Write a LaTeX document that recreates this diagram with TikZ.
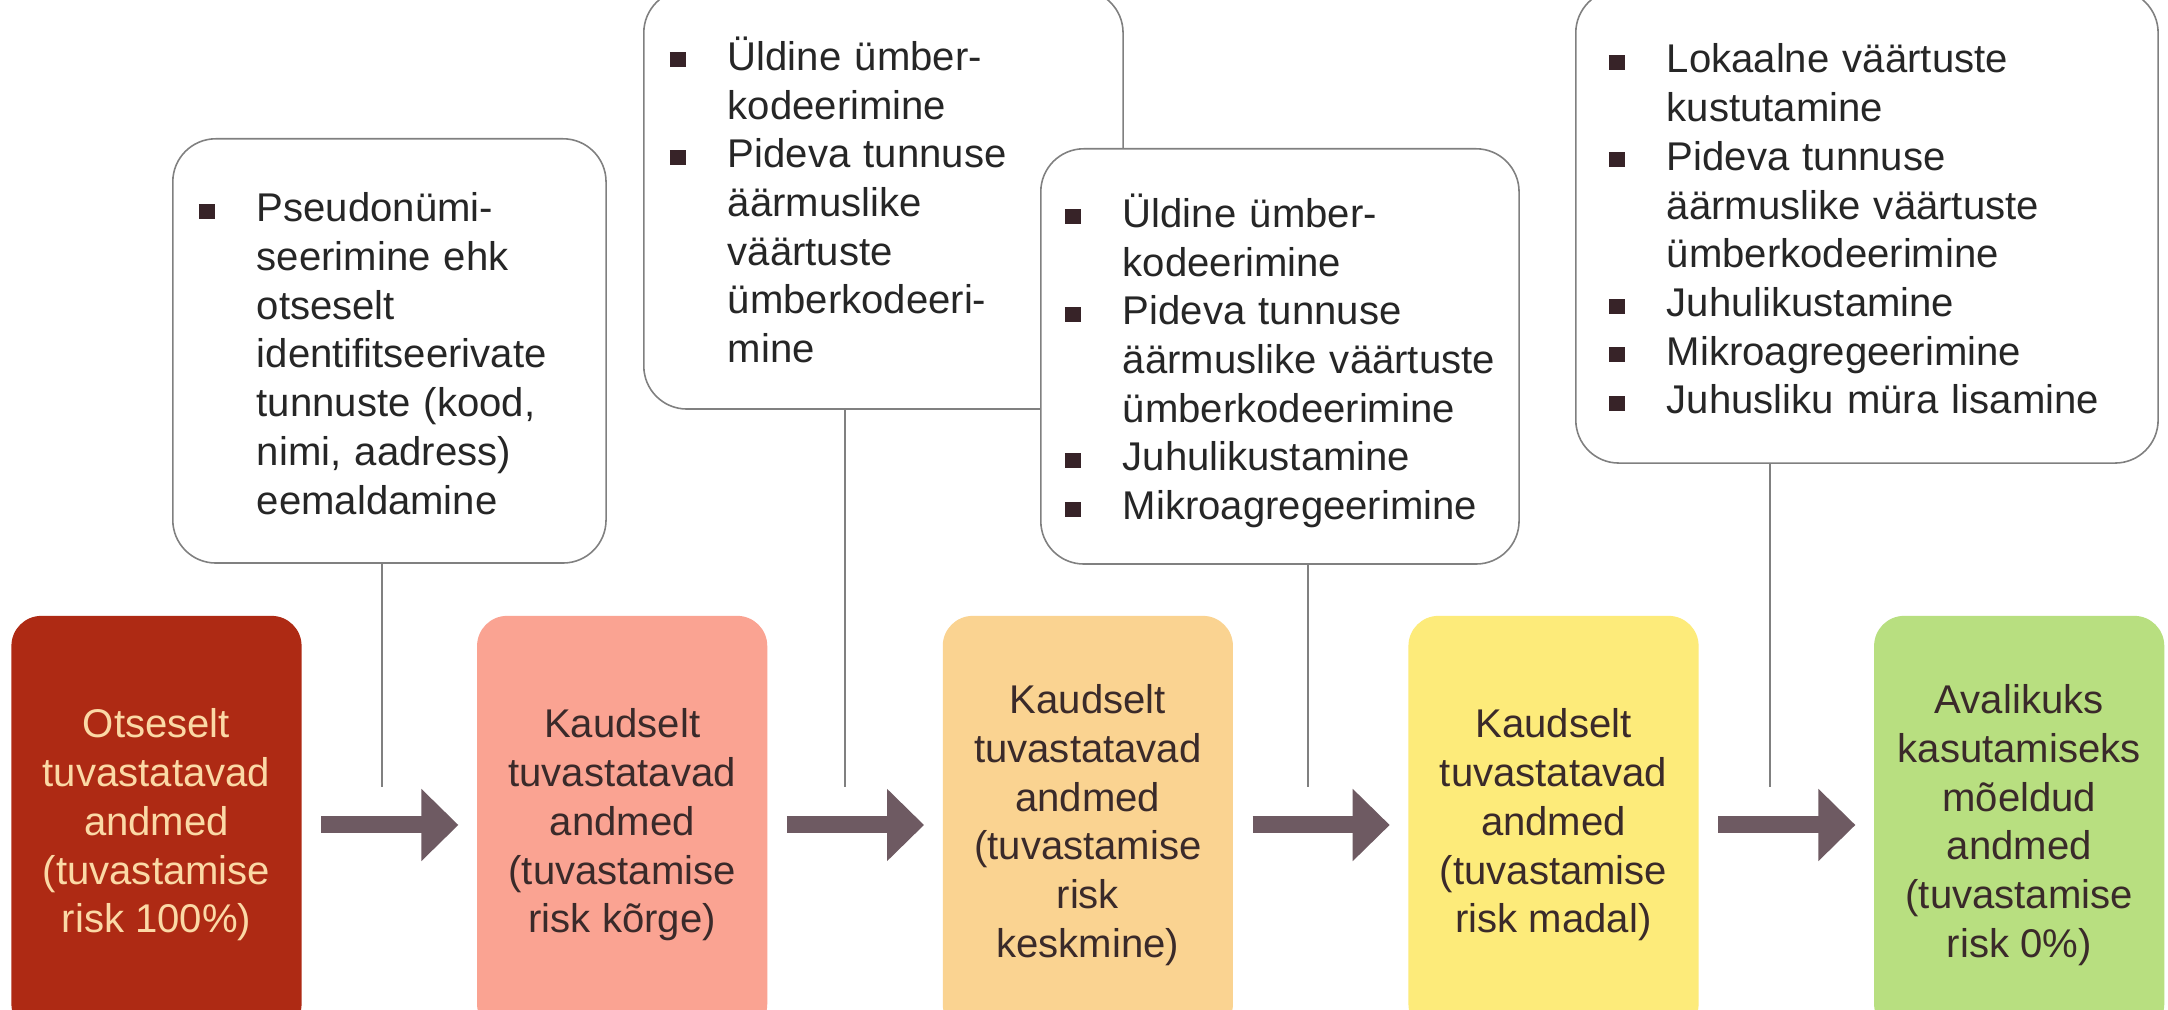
\documentclass[tikz,border=0pt]{standalone}
\usepackage{fontspec}
\setmainfont{Liberation Sans}
\usetikzlibrary{positioning, arrows.meta}

\definecolor{riskfull}{RGB}{174,42,20}
\definecolor{riskhigh}{RGB}{250,163,146}
\definecolor{riskmid}{RGB}{250,211,145}
\definecolor{risklow}{RGB}{253,235,122}
\definecolor{risknone}{RGB}{184,223,128}
\definecolor{peach}{RGB}{251,217,166}
\definecolor{darktext}{RGB}{58,42,42}
\definecolor{arrowgray}{RGB}{110,90,98}
\definecolor{bordergray}{RGB}{128,128,128}
\definecolor{bulletcol}{RGB}{55,35,40}

\newcommand{\bulsq}{\textcolor{bulletcol}{\rule[0.03cm]{0.16cm}{0.15cm}}}
\newcommand{\noteitem}[1]{\par\noindent\hangindent=0.58cm\hangafter=1%
  \makebox[0.58cm][l]{\bulsq}\strut#1\strut\par}

\begin{document}
\begin{tikzpicture}[
        x=0.01cm, y=-0.01cm,
        databox/.style={rounded corners=0.3cm, minimum width=2.9cm, minimum height=4.18cm,
                inner sep=0.05cm, align=center, text=darktext,
                font=\fontsize{11.4}{13.85}\selectfont},
        notebox/.style={draw=bordergray, line width=0.45pt, fill=white, rounded corners=0.43cm,
                anchor=north west, inner xsep=0.26cm, inner ysep=0pt, align=left,
                text=black!85, font=\fontsize{11.4}{13.85}\selectfont},
        flowarrow/.style={draw=arrowgray, line width=0.17cm,
                -{Triangle[length=0.37cm, width=0.7cm]}, shorten <=0.19cm, shorten >=0.18cm},
        linkline/.style={draw=bordergray, line width=0.4pt}
    ]
    \useasboundingbox (0,0) rectangle (2168,1010);
    \clip (0,0) rectangle (2168,1010);
    \fill[white] (0,0) rectangle (2168,1010);

    % Data boxes, from identifiable to public
    \node[databox, fill=riskfull, text=peach] (b1) at (156.5,825)
        {Otseselt\\tuvastatavad\\andmed\\(tuvastamise\\risk 100\%)};
    \node[databox, fill=riskhigh, right=1.74cm of b1] (b2)
        {Kaudselt\\tuvastatavad\\andmed\\(tuvastamise\\risk kõrge)};
    \node[databox, fill=riskmid, right=1.74cm of b2] (b3)
        {Kaudselt\\tuvastatavad\\andmed\\(tuvastamise\\risk\\keskmine)};
    \node[databox, fill=risklow, right=1.74cm of b3] (b4)
        {Kaudselt\\tuvastatavad\\andmed\\(tuvastamise\\risk madal)};
    \node[databox, fill=risknone, right=1.74cm of b4] (b5)
        {Avalikuks\\kasutamiseks\\mõeldud\\andmed\\(tuvastamise\\risk 0\%)};

    % Arrows between the boxes
    \foreach \a/\b in {b1/b2, b2/b3, b3/b4, b4/b5}
        \draw[flowarrow] (\a) -- (\b);

    % Method boxes (the second one lies under the third)
    \node[notebox, text width=3.81cm, minimum width=4.33cm, minimum height=4.24cm] (c1) at (172,138) {
        \noteitem{Pseudonümi-\newline seerimine ehk\newline otseselt\newline identifitseerivate\newline
            tunnuste (kood,\newline nimi, aadress)\newline eemaldamine}
    };
    \node[notebox, text width=4.27cm, minimum width=4.79cm, minimum height=4.19cm] (c2) at (643,-11) {
        \noteitem{Üldine ümber-\newline kodeerimine}
        \noteitem{Pideva tunnuse\newline äärmuslike\newline väärtuste\newline ümberkodeeri-\newline mine}
    };
    \node[notebox, inner xsep=0.24cm, text width=4.30cm, minimum width=4.78cm, minimum height=4.15cm] (c3) at (1040,148) {
        \noteitem{Üldine ümber-\newline kodeerimine}
        \noteitem{Pideva tunnuse\newline äärmuslike väärtuste\newline ümberkodeerimine}
        \noteitem{Juhulikustamine}
        \noteitem{Mikroagregeerimine}
    };
    \node[notebox, inner xsep=0.33cm, text width=5.16cm, minimum width=5.82cm, minimum height=4.73cm] (c4) at (1575,-11) {
        \noteitem{Lokaalne väärtuste\newline kustutamine}
        \noteitem{Pideva tunnuse\newline äärmuslike väärtuste\newline ümberkodeerimine}
        \noteitem{Juhulikustamine}
        \noteitem{Mikroagregeerimine}
        \noteitem{Juhusliku müra lisamine}
    };

    % Lines from method boxes down to the arrows
    \coordinate (k1) at (382,787);
    \coordinate (k2) at (845,787);
    \coordinate (k3) at (1308,787);
    \coordinate (k4) at (1770,787);
    \foreach \c/\k in {c1/k1, c2/k2, c3/k3, c4/k4}
        \draw[linkline] (\c.south -| \k) -- (\k);
\end{tikzpicture}
\end{document}
